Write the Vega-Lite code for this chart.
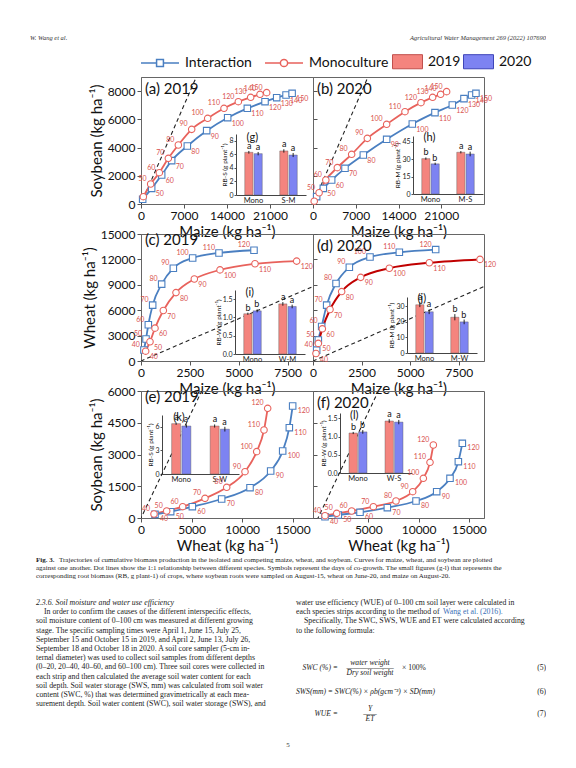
{
  "$schema": "https://vega.github.io/schema/vega-lite/v6.json",
  "background": "white",
  "padding": {"left": 30, "top": 0, "right": 0, "bottom": 0},
  "columns": 3,
  "bounds": "flush",
  "spacing": {"row": 30, "column": 0},
  "config": {
    "view": {"stroke": "#666", "strokeWidth": 1},
    "font": "Lato",
    "axis": {"labelFont": "Lato", "titleFont": "Lato", "labelFontSize": 12, "titleFontSize": 15, "titleFontWeight": "normal", "labelColor": "#111", "titleColor": "#111", "domainColor": "#666", "tickColor": "#555", "tickSize": 4, "grid": false, "labelFlush": false, "labelOverlap": false, "labelPadding": 2, "titlePadding": 3},
    "title": {"font": "Lato", "fontWeight": "normal", "color": "#111"},
    "text": {"font": "Lato"}
  },
  "datasets": {
    "oneone": [{"x": -1000, "y": -1000}, {"x": 40000, "y": 40000}],
    "pa": [
      {"series": "Monoculture", "day": 40, "x": 378, "y": 519}, {"series": "Monoculture", "day": 50, "x": 1574, "y": 1417}, {"series": "Monoculture", "day": 60, "x": 2984, "y": 2220}, {"series": "Monoculture", "day": 70, "x": 4450, "y": 3236}, {"series": "Monoculture", "day": 80, "x": 6078, "y": 4181}, {"series": "Monoculture", "day": 90, "x": 8250, "y": 5291}, {"series": "Monoculture", "day": 100, "x": 10855, "y": 6071}, {"series": "Monoculture", "day": 110, "x": 13512, "y": 6780}, {"series": "Monoculture", "day": 120, "x": 15845, "y": 7252}, {"series": "Monoculture", "day": 130, "x": 17854, "y": 7559}, {"series": "Monoculture", "day": 140, "x": 19373, "y": 7772}, {"series": "Monoculture", "day": 150, "x": 20460, "y": 7890},
      {"series": "Interaction", "day": 40, "x": 271, "y": 331}, {"series": "Interaction", "day": 50, "x": 1736, "y": 1110}, {"series": "Interaction", "day": 60, "x": 3364, "y": 2055}, {"series": "Interaction", "day": 70, "x": 4991, "y": 3071}, {"series": "Interaction", "day": 80, "x": 7542, "y": 4110}, {"series": "Interaction", "day": 90, "x": 10690, "y": 5197}, {"series": "Interaction", "day": 100, "x": 14110, "y": 6118}, {"series": "Interaction", "day": 110, "x": 17310, "y": 6780}, {"series": "Interaction", "day": 120, "x": 20190, "y": 7252}, {"series": "Interaction", "day": 130, "x": 22090, "y": 7535}, {"series": "Interaction", "day": 140, "x": 23610, "y": 7725}, {"series": "Interaction", "day": 150, "x": 24600, "y": 7843}
    ],
    "pb": [
      {"series": "Monoculture", "day": 40, "x": 200, "y": 200}, {"series": "Monoculture", "day": 50, "x": 1000, "y": 800}, {"series": "Monoculture", "day": 60, "x": 2100, "y": 1700}, {"series": "Monoculture", "day": 70, "x": 3983, "y": 2575}, {"series": "Monoculture", "day": 80, "x": 6330, "y": 3520}, {"series": "Monoculture", "day": 90, "x": 8895, "y": 4653}, {"series": "Monoculture", "day": 100, "x": 12060, "y": 5646}, {"series": "Monoculture", "day": 110, "x": 15060, "y": 6543}, {"series": "Monoculture", "day": 120, "x": 17680, "y": 7181}, {"series": "Monoculture", "day": 130, "x": 19590, "y": 7559}, {"series": "Monoculture", "day": 140, "x": 20900, "y": 7772}, {"series": "Monoculture", "day": 150, "x": 21880, "y": 7961},
      {"series": "Interaction", "day": 40, "x": 600, "y": 520}, {"series": "Interaction", "day": 50, "x": 1691, "y": 1110}, {"series": "Interaction", "day": 60, "x": 3055, "y": 1701}, {"series": "Interaction", "day": 70, "x": 5238, "y": 2528}, {"series": "Interaction", "day": 80, "x": 8240, "y": 3473}, {"series": "Interaction", "day": 90, "x": 12060, "y": 4583}, {"series": "Interaction", "day": 100, "x": 16260, "y": 5670}, {"series": "Interaction", "day": 110, "x": 19970, "y": 6473}, {"series": "Interaction", "day": 120, "x": 22810, "y": 7016}, {"series": "Interaction", "day": 130, "x": 24720, "y": 7465}, {"series": "Interaction", "day": 140, "x": 25970, "y": 7725}, {"series": "Interaction", "day": 150, "x": 26680, "y": 7843}
    ],
    "pc": [
      {"series": "Interaction", "day": 40, "x": 150, "y": 1300}, {"series": "Interaction", "day": 50, "x": 256, "y": 2600}, {"series": "Interaction", "day": 60, "x": 375, "y": 4280}, {"series": "Interaction", "day": 70, "x": 597, "y": 6600}, {"series": "Interaction", "day": 80, "x": 1057, "y": 9080}, {"series": "Interaction", "day": 90, "x": 1654, "y": 10960}, {"series": "Interaction", "day": 100, "x": 2643, "y": 12160}, {"series": "Interaction", "day": 110, "x": 3990, "y": 12760}, {"series": "Interaction", "day": 120, "x": 5781, "y": 13080},
      {"series": "Monoculture", "day": 40, "x": 239, "y": 1160}, {"series": "Monoculture", "day": 50, "x": 460, "y": 2280}, {"series": "Monoculture", "day": 60, "x": 716, "y": 3880}, {"series": "Monoculture", "day": 70, "x": 1142, "y": 5960}, {"series": "Monoculture", "day": 80, "x": 1790, "y": 8080}, {"series": "Monoculture", "day": 90, "x": 2728, "y": 9680}, {"series": "Monoculture", "day": 100, "x": 4042, "y": 10760}, {"series": "Monoculture", "day": 110, "x": 5832, "y": 11480}, {"series": "Monoculture", "day": 120, "x": 7964, "y": 11800}
    ],
    "pd": [
      {"series": "Interaction", "day": 40, "x": 190, "y": 1280}, {"series": "Interaction", "day": 50, "x": 274, "y": 2480}, {"series": "Interaction", "day": 60, "x": 446, "y": 4080}, {"series": "Interaction", "day": 70, "x": 703, "y": 6600}, {"series": "Interaction", "day": 80, "x": 1184, "y": 9160}, {"series": "Interaction", "day": 90, "x": 1870, "y": 11080}, {"series": "Interaction", "day": 100, "x": 2933, "y": 12280}, {"series": "Interaction", "day": 110, "x": 4443, "y": 12840}, {"series": "Interaction", "day": 120, "x": 6313, "y": 13160},
      {"series": "Monoculture", "day": 40, "x": 154, "y": 880}, {"series": "Monoculture", "day": 50, "x": 274, "y": 2080}, {"series": "Monoculture", "day": 60, "x": 480, "y": 3800}, {"series": "Monoculture", "day": 70, "x": 875, "y": 6080}, {"series": "Monoculture", "day": 80, "x": 1475, "y": 8200}, {"series": "Monoculture", "day": 90, "x": 2453, "y": 9880}, {"series": "Monoculture", "day": 100, "x": 3928, "y": 10960}, {"series": "Monoculture", "day": 110, "x": 5986, "y": 11600}, {"series": "Monoculture", "day": 120, "x": 8594, "y": 12000}
    ],
    "pe": [
      {"series": "Monoculture", "day": 40, "x": 1285, "y": 189}, {"series": "Monoculture", "day": 50, "x": 2540, "y": 331}, {"series": "Monoculture", "day": 60, "x": 4120, "y": 535}, {"series": "Monoculture", "day": 70, "x": 6326, "y": 929}, {"series": "Monoculture", "day": 80, "x": 8470, "y": 1449}, {"series": "Monoculture", "day": 90, "x": 10279, "y": 2189}, {"series": "Monoculture", "day": 100, "x": 11433, "y": 3134}, {"series": "Monoculture", "day": 110, "x": 12157, "y": 4157}, {"series": "Monoculture", "day": 120, "x": 12520, "y": 5181},
      {"series": "Interaction", "day": 40, "x": 1384, "y": 173}, {"series": "Interaction", "day": 50, "x": 2932, "y": 299}, {"series": "Interaction", "day": 60, "x": 5073, "y": 535}, {"series": "Interaction", "day": 70, "x": 7972, "y": 898}, {"series": "Interaction", "day": 80, "x": 10774, "y": 1433}, {"series": "Interaction", "day": 90, "x": 12816, "y": 2220}, {"series": "Interaction", "day": 100, "x": 14003, "y": 3165}, {"series": "Interaction", "day": 110, "x": 14660, "y": 4267}, {"series": "Interaction", "day": 120, "x": 14990, "y": 5291}
    ],
    "pf": [
      {"series": "Monoculture", "day": 40, "x": 693, "y": 110}, {"series": "Monoculture", "day": 50, "x": 1856, "y": 220}, {"series": "Monoculture", "day": 60, "x": 3346, "y": 331}, {"series": "Monoculture", "day": 70, "x": 5500, "y": 535}, {"series": "Monoculture", "day": 80, "x": 7752, "y": 803}, {"series": "Monoculture", "day": 90, "x": 9410, "y": 1244}, {"series": "Monoculture", "day": 100, "x": 10470, "y": 1874}, {"series": "Monoculture", "day": 110, "x": 11132, "y": 2630}, {"series": "Monoculture", "day": 120, "x": 11463, "y": 3449},
      {"series": "Interaction", "day": 40, "x": 693, "y": 61}, {"series": "Interaction", "day": 50, "x": 2015, "y": 142}, {"series": "Interaction", "day": 60, "x": 4173, "y": 268}, {"series": "Interaction", "day": 70, "x": 6890, "y": 488}, {"series": "Interaction", "day": 80, "x": 9740, "y": 803}, {"series": "Interaction", "day": 90, "x": 11796, "y": 1244}, {"series": "Interaction", "day": 100, "x": 13120, "y": 1874}, {"series": "Interaction", "day": 110, "x": 13950, "y": 2661}, {"series": "Interaction", "day": 120, "x": 14345, "y": 3528}
    ],
    "ig": [
      {"cat": "Mono", "year": "2019", "v": 6.3, "lo": 6.1, "hi": 6.5, "letter": "a"}, {"cat": "Mono", "year": "2020", "v": 6.1, "lo": 5.85, "hi": 6.35, "letter": "a"},
      {"cat": "S-M", "year": "2019", "v": 6.5, "lo": 6.25, "hi": 6.75, "letter": "a"}, {"cat": "S-M", "year": "2020", "v": 5.9, "lo": 5.6, "hi": 6.2, "letter": "a"}
    ],
    "ih": [
      {"cat": "Mono", "year": "2019", "v": 30.5, "lo": 29.5, "hi": 31.5, "letter": "b"}, {"cat": "Mono", "year": "2020", "v": 26, "lo": 25, "hi": 27, "letter": "b"},
      {"cat": "M-S", "year": "2019", "v": 36, "lo": 35, "hi": 37, "letter": "a"}, {"cat": "M-S", "year": "2020", "v": 34.5, "lo": 32.5, "hi": 36.5, "letter": "a"}
    ],
    "ii": [
      {"cat": "Mono", "year": "2019", "v": 1.1, "lo": 1.07, "hi": 1.13, "letter": "b"}, {"cat": "Mono", "year": "2020", "v": 1.18, "lo": 1.14, "hi": 1.22, "letter": "b"},
      {"cat": "W-M", "year": "2019", "v": 1.37, "lo": 1.32, "hi": 1.42, "letter": "a"}, {"cat": "W-M", "year": "2020", "v": 1.3, "lo": 1.25, "hi": 1.35, "letter": "a"}
    ],
    "ij": [
      {"cat": "Mono", "year": "2019", "v": 31, "lo": 29.5, "hi": 32.5, "letter": "a"}, {"cat": "Mono", "year": "2020", "v": 26.5, "lo": 25, "hi": 28, "letter": "a"},
      {"cat": "M-W", "year": "2019", "v": 23, "lo": 21, "hi": 25, "letter": "b"}, {"cat": "M-W", "year": "2020", "v": 20, "lo": 18.5, "hi": 21.5, "letter": "b"}
    ],
    "ik": [
      {"cat": "Mono", "year": "2019", "v": 6.4, "lo": 6.25, "hi": 6.55, "letter": "a"}, {"cat": "Mono", "year": "2020", "v": 6.1, "lo": 5.9, "hi": 6.3, "letter": "a"},
      {"cat": "S-W", "year": "2019", "v": 6.1, "lo": 5.9, "hi": 6.3, "letter": "a"}, {"cat": "S-W", "year": "2020", "v": 5.7, "lo": 5.4, "hi": 6.0, "letter": "a"}
    ],
    "il": [
      {"cat": "Mono", "year": "2019", "v": 1.1, "lo": 1.07, "hi": 1.13, "letter": "b"}, {"cat": "Mono", "year": "2020", "v": 1.13, "lo": 1.08, "hi": 1.18, "letter": "b"},
      {"cat": "W-S", "year": "2019", "v": 1.43, "lo": 1.38, "hi": 1.48, "letter": "a"}, {"cat": "W-S", "year": "2020", "v": 1.4, "lo": 1.34, "hi": 1.46, "letter": "a"}
    ]
  },
  "concat": [
    {
      "width": 111, "height": 47, "view": {"stroke": null},
      "data": {"values": [{"line": 0, "side": "left", "text": "W. Wang et al."}, {"line": 0, "side": "right", "text": "Agricultural Water Management 269 (2022) 107690"}]},
      "encoding": {
        "x": {"field": "side", "type": "nominal", "scale": {"type": "point", "domain": ["left", "right"], "range": [0, 516], "padding": 0}, "axis": null},
        "y": {"field": "line", "type": "quantitative", "scale": {"domain": [0, 1], "range": [38, 47]}, "axis": null},
        "text": {"field": "text"}
      },
      "layer": [
        {"transform": [{"filter": "datum.side == 'left'"}], "mark": {"type": "text", "align": "left", "baseline": "middle", "font": "Liberation Serif", "fontStyle": "italic", "fontSize": 6.5, "color": "#333"}},
        {"transform": [{"filter": "datum.side == 'right'"}], "mark": {"type": "text", "align": "right", "baseline": "middle", "font": "Liberation Serif", "fontStyle": "italic", "fontSize": 6.5, "color": "#333"}}
      ]
    },
    {"width": 1, "height": 1, "view": {"stroke": null}, "data": {"values": []}, "mark": "point"},
    {"width": 1, "height": 1, "view": {"stroke": null}, "data": {"values": []}, "mark": "point"},

    {"width": 111, "height": 127, "view": {"stroke": null}, "data": {"values": []}, "mark": "point"},
    {
      "width": 172, "height": 127,
      "title": {"text": "(a) 2019", "anchor": "start", "frame": "group", "offset": -20, "dx": 4, "fontSize": 15, "baseline": "top"},
      "layer": [
        {
          "encoding": {
            "x": {"field": "x", "type": "quantitative", "scale": {"domain": [0, 28000], "nice": false, "zero": false}, "axis": {"values": [0, 7000, 14000, 21000], "format": "d", "title": "Maize (kg ha⁻¹)"}},
            "y": {"field": "y", "type": "quantitative", "scale": {"domain": [0, 9000], "nice": false, "zero": false}, "axis": {"values": [0, 2000, 4000, 6000, 8000], "format": "d", "title": "Soybean (kg ha⁻¹)"}}
          },
          "layer": [
            {"data": {"name": "oneone"}, "mark": {"type": "line", "color": "#222", "strokeDash": [4, 3], "strokeWidth": 1.1, "clip": true}, "encoding": {}},
            {"data": {"name": "pa"}, "mark": {"type": "line", "interpolate": "monotone", "strokeWidth": 1.8},
              "encoding": {
                "stroke": {"field": "series", "type": "nominal", "scale": {"domain": ["Interaction", "Monoculture"], "range": ["#4a7fc1", "#e8625c"]},
                  "legend": {"title": null, "orient": "none", "legendX": 110, "legendY": 43, "direction": "horizontal", "columns": 2, "columnPadding": 10, "labelFontSize": 14, "labelFont": "Lato", "labelColor": "#111", "symbolSize": 1444, "labelOffset": 5, "padding": 0,
                    "symbolType": {"expr": "datum.value == 'Interaction' ? 'M-1,0H-0.18M0.18,0H1M-0.18,-0.18H0.18V0.18H-0.18Z' : 'M-1,0H-0.19M0.19,0H1M-0.19,0A0.19,0.19,0,1,0,0.19,0A0.19,0.19,0,1,0,-0.19,0Z'"},
                    "encoding": {"symbols": {
                      "shape": {"value": {"expr": "datum.value == 'Interaction' ? 'M-1,0H-0.18M0.18,0H1M-0.18,-0.18H0.18V0.18H-0.18Z' : 'M-1,0H-0.19M0.19,0H1M-0.19,0A0.19,0.19,0,1,0,0.19,0A0.19,0.19,0,1,0,-0.19,0Z'"}},
                      "fill": {"value": "white"},
                      "stroke": {"value": {"expr": "datum.value == 'Interaction' ? '#4a7fc1' : '#e8625c'"}},
                      "strokeWidth": {"value": 1.5}, "opacity": {"value": 1}, "fillOpacity": {"value": 1}, "strokeOpacity": {"value": 1}
                    }}}},
                "order": {"field": "day", "type": "quantitative"}}},
            {"data": {"name": "pa"}, "transform": [{"filter": "datum.series == 'Interaction'"}], "mark": {"type": "point", "shape": "square", "filled": true, "fill": "white", "stroke": "#4a7fc1", "size": 42, "strokeWidth": 1.1, "opacity": 1}, "encoding": {}},
            {"data": {"name": "pa"}, "transform": [{"filter": "datum.series == 'Monoculture'"}], "mark": {"type": "point", "shape": "circle", "filled": true, "fill": "white", "stroke": "#e8625c", "size": 42, "strokeWidth": 1.1, "opacity": 1}, "encoding": {}},
            {"data": {"name": "pa"}, "transform": [{"filter": "datum.series == 'Monoculture' && datum.day >= 50"}], "mark": {"type": "text", "color": "#d9534f", "fontSize": 7, "align": "right", "dx": -4, "dy": -5}, "encoding": {"text": {"field": "day", "type": "quantitative"}}},
            {"data": {"name": "pa"}, "transform": [{"filter": "datum.series == 'Interaction' && datum.day >= 50"}], "mark": {"type": "text", "color": "#d9534f", "fontSize": 7, "align": "left", "dx": 4, "dy": 6}, "encoding": {"text": {"field": "day", "type": "quantitative"}}}
          ]
        },
        {"data": {"name": "ig"}, "mark": {"type": "bar", "stroke": "#555", "strokeWidth": 0.4},
          "encoding": {
            "x": {"field": "cat", "type": "nominal", "scale": {"domain": ["Mono", "S-M"], "range": [95, 165], "paddingInner": 0.5, "paddingOuter": 0.25}, "axis": {"orient": "bottom", "offset": -9, "title": null, "labelAngle": 0, "ticks": false, "labelFontSize": 7.5, "labelPadding": 1, "domainColor": "#444", "labelColor": "#222"}},
            "xOffset": {"field": "year", "type": "nominal", "scale": {"paddingInner": 0.12}},
            "y": {"field": "v", "type": "quantitative", "scale": {"domain": [0, 9], "range": [118, 57], "nice": false, "zero": false}, "axis": {"orient": "left", "offset": -95, "values": [0, 2, 4, 6, 8], "title": "RB-S (g plant⁻¹)", "titleFontSize": 6.5, "labelFontSize": 7, "tickSize": 2, "labelPadding": 1, "titlePadding": 1, "domainColor": "#444", "labelColor": "#222"}},
            "color": {"field": "year", "type": "nominal", "scale": {"domain": ["2019", "2020"], "range": ["#f4847e", "#7d83f2"]},
              "legend": {"title": null, "orient": "none", "legendX": 362, "legendY": 46, "direction": "horizontal", "columns": 2, "columnPadding": 0, "labelFontSize": 14, "labelFont": "Lato", "labelColor": "#111", "symbolSize": 900, "symbolType": "M-1,-0.47H1V0.47H-1Z", "labelOffset": 5, "padding": 0,
                "encoding": {"symbols": {
                  "stroke": {"value": {"expr": "datum.value == '2019' ? '#c0504d' : '#3f46b8'"}},
                  "strokeWidth": {"value": 1}, "opacity": {"value": 1}, "fillOpacity": {"value": 1}
                }}}}}},
        {"data": {"name": "ig"}, "mark": {"type": "rule", "color": "#111", "strokeWidth": 0.9},
          "encoding": {
            "x": {"field": "cat", "type": "nominal", "scale": {"domain": ["Mono", "S-M"], "range": [95, 165], "paddingInner": 0.5, "paddingOuter": 0.25}, "axis": null},
            "xOffset": {"field": "year", "type": "nominal", "scale": {"paddingInner": 0.12}},
            "y": {"field": "lo", "type": "quantitative", "scale": {"domain": [0, 9], "range": [118, 57], "nice": false, "zero": false}, "axis": null},
            "y2": {"field": "hi"}}},
        {"data": {"name": "ig"}, "mark": {"type": "text", "fontSize": 9, "baseline": "alphabetic", "dy": -2, "color": "#111"},
          "encoding": {
            "x": {"field": "cat", "type": "nominal", "scale": {"domain": ["Mono", "S-M"], "range": [95, 165], "paddingInner": 0.5, "paddingOuter": 0.25}, "axis": null},
            "xOffset": {"field": "year", "type": "nominal", "scale": {"paddingInner": 0.12}},
            "y": {"field": "hi", "type": "quantitative", "scale": {"domain": [0, 9], "range": [118, 57], "nice": false, "zero": false}, "axis": null},
            "text": {"field": "letter"}}},
        {"data": {"values": [{"cat": "Mono", "lab": "(g)"}]}, "mark": {"type": "text", "fontSize": 11, "align": "left", "baseline": "middle", "dx": -7, "dy": 4, "color": "#111"},
          "encoding": {
            "x": {"field": "cat", "type": "nominal", "bandPosition": 0, "scale": {"domain": ["Mono", "S-M"], "range": [95, 165], "paddingInner": 0.5, "paddingOuter": 0.25}, "axis": null},
            "y": {"datum": 9, "type": "quantitative", "scale": {"domain": [0, 9], "range": [118, 57], "nice": false, "zero": false}, "axis": null},
            "text": {"field": "lab"}}}
      ],
      "resolve": {"scale": {"x": "independent", "y": "independent", "xOffset": "independent"}, "axis": {"x": "independent", "y": "independent"}}
    },
    {
      "width": 171, "height": 127,
      "title": {"text": "(b) 2020", "anchor": "start", "frame": "group", "offset": -20, "dx": 4, "fontSize": 15, "baseline": "top"},
      "layer": [
        {
          "encoding": {
            "x": {"field": "x", "type": "quantitative", "scale": {"domain": [0, 28000], "nice": false, "zero": false}, "axis": {"values": [0, 7000, 14000, 21000], "format": "d", "title": "Maize (kg ha⁻¹)"}},
            "y": {"field": "y", "type": "quantitative", "scale": {"domain": [0, 9000], "nice": false, "zero": false}, "axis": {"values": [0, 2000, 4000, 6000, 8000], "labels": false, "title": null, "tickSize": -4}}
          },
          "layer": [
            {"data": {"name": "oneone"}, "mark": {"type": "line", "color": "#222", "strokeDash": [4, 3], "strokeWidth": 1.1, "clip": true}, "encoding": {}},
            {"data": {"name": "pb"}, "mark": {"type": "line", "interpolate": "monotone", "strokeWidth": 1.8},
              "encoding": {"stroke": {"field": "series", "type": "nominal", "scale": {"domain": ["Interaction", "Monoculture"], "range": ["#4a7fc1", "#e8625c"]}, "legend": null}, "order": {"field": "day", "type": "quantitative"}}},
            {"data": {"name": "pb"}, "transform": [{"filter": "datum.series == 'Interaction'"}], "mark": {"type": "point", "shape": "square", "filled": true, "fill": "white", "stroke": "#4a7fc1", "size": 42, "strokeWidth": 1.1, "opacity": 1}, "encoding": {}},
            {"data": {"name": "pb"}, "transform": [{"filter": "datum.series == 'Monoculture'"}], "mark": {"type": "point", "shape": "circle", "filled": true, "fill": "white", "stroke": "#e8625c", "size": 42, "strokeWidth": 1.1, "opacity": 1}, "encoding": {}},
            {"data": {"name": "pb"}, "transform": [{"filter": "datum.series == 'Monoculture' && datum.day >= 50"}], "mark": {"type": "text", "color": "#d9534f", "fontSize": 7, "align": "right", "dx": -4, "dy": -5}, "encoding": {"text": {"field": "day", "type": "quantitative"}}},
            {"data": {"name": "pb"}, "transform": [{"filter": "datum.series == 'Interaction' && datum.day >= 50"}], "mark": {"type": "text", "color": "#d9534f", "fontSize": 7, "align": "left", "dx": 4, "dy": 6}, "encoding": {"text": {"field": "day", "type": "quantitative"}}}
          ]
        },
        {"data": {"name": "ih"}, "mark": {"type": "bar", "stroke": "#555", "strokeWidth": 0.4},
          "encoding": {
            "x": {"field": "cat", "type": "nominal", "scale": {"domain": ["Mono", "M-S"], "range": [100, 170], "paddingInner": 0.5, "paddingOuter": 0.25}, "axis": {"orient": "bottom", "offset": -10, "title": null, "labelAngle": 0, "ticks": false, "labelFontSize": 7.5, "labelPadding": 1, "domainColor": "#444", "labelColor": "#222"}},
            "xOffset": {"field": "year", "type": "nominal", "scale": {"paddingInner": 0.12}},
            "y": {"field": "v", "type": "quantitative", "scale": {"domain": [0, 50], "range": [117, 59], "nice": false, "zero": false}, "axis": {"orient": "left", "offset": -100, "values": [0, 15, 30, 45], "title": "RB-M (g plant⁻¹)", "titleFontSize": 6.5, "labelFontSize": 7, "tickSize": 2, "labelPadding": 1, "titlePadding": 1, "domainColor": "#444", "labelColor": "#222"}},
            "color": {"field": "year", "type": "nominal", "scale": {"domain": ["2019", "2020"], "range": ["#f4847e", "#7d83f2"]}, "legend": null}}},
        {"data": {"name": "ih"}, "mark": {"type": "rule", "color": "#111", "strokeWidth": 0.9},
          "encoding": {
            "x": {"field": "cat", "type": "nominal", "scale": {"domain": ["Mono", "M-S"], "range": [100, 170], "paddingInner": 0.5, "paddingOuter": 0.25}, "axis": null},
            "xOffset": {"field": "year", "type": "nominal", "scale": {"paddingInner": 0.12}},
            "y": {"field": "lo", "type": "quantitative", "scale": {"domain": [0, 50], "range": [117, 59], "nice": false, "zero": false}, "axis": null},
            "y2": {"field": "hi"}}},
        {"data": {"name": "ih"}, "mark": {"type": "text", "fontSize": 9, "baseline": "alphabetic", "dy": -2, "color": "#111"},
          "encoding": {
            "x": {"field": "cat", "type": "nominal", "scale": {"domain": ["Mono", "M-S"], "range": [100, 170], "paddingInner": 0.5, "paddingOuter": 0.25}, "axis": null},
            "xOffset": {"field": "year", "type": "nominal", "scale": {"paddingInner": 0.12}},
            "y": {"field": "hi", "type": "quantitative", "scale": {"domain": [0, 50], "range": [117, 59], "nice": false, "zero": false}, "axis": null},
            "text": {"field": "letter"}}},
        {"data": {"values": [{"cat": "Mono", "lab": "(h)"}]}, "mark": {"type": "text", "fontSize": 11, "align": "left", "baseline": "middle", "dx": -7, "dy": 2, "color": "#111"},
          "encoding": {
            "x": {"field": "cat", "type": "nominal", "bandPosition": 0, "scale": {"domain": ["Mono", "M-S"], "range": [100, 170], "paddingInner": 0.5, "paddingOuter": 0.25}, "axis": null},
            "y": {"datum": 50, "type": "quantitative", "scale": {"domain": [0, 50], "range": [117, 59], "nice": false, "zero": false}, "axis": null},
            "text": {"field": "lab"}}}
      ],
      "resolve": {"scale": {"x": "independent", "y": "independent", "xOffset": "independent"}, "axis": {"x": "independent", "y": "independent"}}
    },

    {"width": 111, "height": 127, "view": {"stroke": null}, "data": {"values": []}, "mark": "point"},
    {
      "width": 172, "height": 127,
      "title": {"text": "(c) 2019", "anchor": "start", "frame": "group", "offset": -20, "dx": 4, "fontSize": 15, "baseline": "top"},
      "layer": [
        {
          "encoding": {
            "x": {"field": "x", "type": "quantitative", "scale": {"domain": [0, 8800], "nice": false, "zero": false}, "axis": {"values": [0, 2500, 5000, 7500], "format": "d", "title": "Maize (kg ha⁻¹)"}},
            "y": {"field": "y", "type": "quantitative", "scale": {"domain": [0, 15000], "nice": false, "zero": false}, "axis": {"values": [0, 3000, 6000, 9000, 12000, 15000], "format": "d", "title": "Wheat (kg ha⁻¹)"}}
          },
          "layer": [
            {"data": {"name": "oneone"}, "mark": {"type": "line", "color": "#222", "strokeDash": [4, 3], "strokeWidth": 1.1, "clip": true}, "encoding": {}},
            {"data": {"name": "pc"}, "mark": {"type": "line", "interpolate": "monotone", "strokeWidth": 1.8},
              "encoding": {"stroke": {"field": "series", "type": "nominal", "scale": {"domain": ["Interaction", "Monoculture"], "range": ["#4a7fc1", "#e8625c"]}, "legend": null}, "order": {"field": "day", "type": "quantitative"}}},
            {"data": {"name": "pc"}, "transform": [{"filter": "datum.series == 'Interaction'"}], "mark": {"type": "point", "shape": "square", "filled": true, "fill": "white", "stroke": "#4a7fc1", "size": 42, "strokeWidth": 1.1, "opacity": 1}, "encoding": {}},
            {"data": {"name": "pc"}, "transform": [{"filter": "datum.series == 'Monoculture'"}], "mark": {"type": "point", "shape": "circle", "filled": true, "fill": "white", "stroke": "#e8625c", "size": 42, "strokeWidth": 1.1, "opacity": 1}, "encoding": {}},
            {"data": {"name": "pc"}, "transform": [{"filter": "datum.series == 'Interaction'"}], "mark": {"type": "text", "color": "#d9534f", "fontSize": 7, "align": "right", "dx": -4, "dy": -5}, "encoding": {"text": {"field": "day", "type": "quantitative"}}},
            {"data": {"name": "pc"}, "transform": [{"filter": "datum.series == 'Monoculture'"}], "mark": {"type": "text", "color": "#d9534f", "fontSize": 7, "align": "left", "dx": 4, "dy": 6}, "encoding": {"text": {"field": "day", "type": "quantitative"}}}
          ]
        },
        {"data": {"name": "ii"}, "mark": {"type": "bar", "stroke": "#555", "strokeWidth": 0.4},
          "encoding": {
            "x": {"field": "cat", "type": "nominal", "scale": {"domain": ["Mono", "W-M"], "range": [94, 164], "paddingInner": 0.5, "paddingOuter": 0.25}, "axis": {"orient": "bottom", "offset": -7, "title": null, "labelAngle": 0, "ticks": false, "labelFontSize": 7.5, "labelPadding": 1, "domainColor": "#444", "labelColor": "#222"}},
            "xOffset": {"field": "year", "type": "nominal", "scale": {"paddingInner": 0.12}},
            "y": {"field": "v", "type": "quantitative", "scale": {"domain": [0, 1.75], "range": [120, 56], "nice": false, "zero": false}, "axis": {"orient": "left", "offset": -94, "values": [0, 0.5, 1, 1.5], "format": ".1f", "title": "RB-W (g plant⁻¹)", "titleFontSize": 6.5, "labelFontSize": 7, "tickSize": 2, "labelPadding": 1, "titlePadding": 1, "domainColor": "#444", "labelColor": "#222"}},
            "color": {"field": "year", "type": "nominal", "scale": {"domain": ["2019", "2020"], "range": ["#f4847e", "#7d83f2"]}, "legend": null}}},
        {"data": {"name": "ii"}, "mark": {"type": "rule", "color": "#111", "strokeWidth": 0.9},
          "encoding": {
            "x": {"field": "cat", "type": "nominal", "scale": {"domain": ["Mono", "W-M"], "range": [94, 164], "paddingInner": 0.5, "paddingOuter": 0.25}, "axis": null},
            "xOffset": {"field": "year", "type": "nominal", "scale": {"paddingInner": 0.12}},
            "y": {"field": "lo", "type": "quantitative", "scale": {"domain": [0, 1.75], "range": [120, 56], "nice": false, "zero": false}, "axis": null},
            "y2": {"field": "hi"}}},
        {"data": {"name": "ii"}, "mark": {"type": "text", "fontSize": 9, "baseline": "alphabetic", "dy": -2, "color": "#111"},
          "encoding": {
            "x": {"field": "cat", "type": "nominal", "scale": {"domain": ["Mono", "W-M"], "range": [94, 164], "paddingInner": 0.5, "paddingOuter": 0.25}, "axis": null},
            "xOffset": {"field": "year", "type": "nominal", "scale": {"paddingInner": 0.12}},
            "y": {"field": "hi", "type": "quantitative", "scale": {"domain": [0, 1.75], "range": [120, 56], "nice": false, "zero": false}, "axis": null},
            "text": {"field": "letter"}}},
        {"data": {"values": [{"cat": "Mono", "lab": "(i)"}]}, "mark": {"type": "text", "fontSize": 11, "align": "left", "baseline": "middle", "dx": -7, "dy": 3, "color": "#111"},
          "encoding": {
            "x": {"field": "cat", "type": "nominal", "bandPosition": 0, "scale": {"domain": ["Mono", "W-M"], "range": [94, 164], "paddingInner": 0.5, "paddingOuter": 0.25}, "axis": null},
            "y": {"datum": 1.75, "type": "quantitative", "scale": {"domain": [0, 1.75], "range": [120, 56], "nice": false, "zero": false}, "axis": null},
            "text": {"field": "lab"}}}
      ],
      "resolve": {"scale": {"x": "independent", "y": "independent", "xOffset": "independent"}, "axis": {"x": "independent", "y": "independent"}}
    },
    {
      "width": 171, "height": 127,
      "title": {"text": "(d) 2020", "anchor": "start", "frame": "group", "offset": -20, "dx": 4, "fontSize": 15, "baseline": "top"},
      "layer": [
        {
          "encoding": {
            "x": {"field": "x", "type": "quantitative", "scale": {"domain": [0, 8800], "nice": false, "zero": false}, "axis": {"values": [0, 2500, 5000, 7500], "format": "d", "title": "Maize (kg ha⁻¹)"}},
            "y": {"field": "y", "type": "quantitative", "scale": {"domain": [0, 15000], "nice": false, "zero": false}, "axis": {"values": [0, 3000, 6000, 9000, 12000, 15000], "labels": false, "title": null, "tickSize": -4}}
          },
          "layer": [
            {"data": {"name": "oneone"}, "mark": {"type": "line", "color": "#222", "strokeDash": [4, 3], "strokeWidth": 1.1, "clip": true}, "encoding": {}},
            {"data": {"name": "pd"}, "transform": [{"filter": "datum.series == 'Interaction'"}], "mark": {"type": "line", "interpolate": "monotone", "strokeWidth": 1.8, "color": "#4a7fc1"},
              "encoding": {"order": {"field": "day", "type": "quantitative"}}},
            {"data": {"name": "pd"}, "transform": [{"filter": "datum.series == 'Monoculture'"}], "mark": {"type": "line", "interpolate": "monotone", "strokeWidth": 2, "color": "#c00000"},
              "encoding": {"order": {"field": "day", "type": "quantitative"}}},
            {"data": {"name": "pd"}, "transform": [{"filter": "datum.series == 'Interaction'"}], "mark": {"type": "point", "shape": "square", "filled": true, "fill": "white", "stroke": "#4a7fc1", "size": 42, "strokeWidth": 1.1, "opacity": 1}, "encoding": {}},
            {"data": {"name": "pd"}, "transform": [{"filter": "datum.series == 'Monoculture'"}], "mark": {"type": "point", "shape": "circle", "filled": true, "fill": "white", "stroke": "#e8625c", "size": 42, "strokeWidth": 1.1, "opacity": 1}, "encoding": {}},
            {"data": {"name": "pd"}, "transform": [{"filter": "datum.series == 'Interaction'"}], "mark": {"type": "text", "color": "#d9534f", "fontSize": 7, "align": "right", "dx": -4, "dy": -5}, "encoding": {"text": {"field": "day", "type": "quantitative"}}},
            {"data": {"name": "pd"}, "transform": [{"filter": "datum.series == 'Monoculture'"}], "mark": {"type": "text", "color": "#d9534f", "fontSize": 7, "align": "left", "dx": 4, "dy": 6}, "encoding": {"text": {"field": "day", "type": "quantitative"}}}
          ]
        },
        {"data": {"name": "ij"}, "mark": {"type": "bar", "stroke": "#555", "strokeWidth": 0.4},
          "encoding": {
            "x": {"field": "cat", "type": "nominal", "scale": {"domain": ["Mono", "M-W"], "range": [94, 164], "paddingInner": 0.5, "paddingOuter": 0.25}, "axis": {"orient": "bottom", "offset": -8, "title": null, "labelAngle": 0, "ticks": false, "labelFontSize": 7.5, "labelPadding": 1, "domainColor": "#444", "labelColor": "#222"}},
            "xOffset": {"field": "year", "type": "nominal", "scale": {"paddingInner": 0.12}},
            "y": {"field": "v", "type": "quantitative", "scale": {"domain": [0, 36], "range": [119, 63], "nice": false, "zero": false}, "axis": {"orient": "left", "offset": -94, "values": [0, 10, 20, 30], "title": "RB-M (g plant⁻¹)", "titleFontSize": 6.5, "labelFontSize": 7, "tickSize": 2, "labelPadding": 1, "titlePadding": 1, "domainColor": "#444", "labelColor": "#222"}},
            "color": {"field": "year", "type": "nominal", "scale": {"domain": ["2019", "2020"], "range": ["#f4847e", "#7d83f2"]}, "legend": null}}},
        {"data": {"name": "ij"}, "mark": {"type": "rule", "color": "#111", "strokeWidth": 0.9},
          "encoding": {
            "x": {"field": "cat", "type": "nominal", "scale": {"domain": ["Mono", "M-W"], "range": [94, 164], "paddingInner": 0.5, "paddingOuter": 0.25}, "axis": null},
            "xOffset": {"field": "year", "type": "nominal", "scale": {"paddingInner": 0.12}},
            "y": {"field": "lo", "type": "quantitative", "scale": {"domain": [0, 36], "range": [119, 63], "nice": false, "zero": false}, "axis": null},
            "y2": {"field": "hi"}}},
        {"data": {"name": "ij"}, "mark": {"type": "text", "fontSize": 9, "baseline": "alphabetic", "dy": -2, "color": "#111"},
          "encoding": {
            "x": {"field": "cat", "type": "nominal", "scale": {"domain": ["Mono", "M-W"], "range": [94, 164], "paddingInner": 0.5, "paddingOuter": 0.25}, "axis": null},
            "xOffset": {"field": "year", "type": "nominal", "scale": {"paddingInner": 0.12}},
            "y": {"field": "hi", "type": "quantitative", "scale": {"domain": [0, 36], "range": [119, 63], "nice": false, "zero": false}, "axis": null},
            "text": {"field": "letter"}}},
        {"data": {"values": [{"cat": "Mono", "lab": "(j)"}]}, "mark": {"type": "text", "fontSize": 11, "align": "left", "baseline": "middle", "dx": -7, "dy": 2, "color": "#111"},
          "encoding": {
            "x": {"field": "cat", "type": "nominal", "bandPosition": 0, "scale": {"domain": ["Mono", "M-W"], "range": [94, 164], "paddingInner": 0.5, "paddingOuter": 0.25}, "axis": null},
            "y": {"datum": 36, "type": "quantitative", "scale": {"domain": [0, 36], "range": [119, 63], "nice": false, "zero": false}, "axis": null},
            "text": {"field": "lab"}}}
      ],
      "resolve": {"scale": {"x": "independent", "y": "independent", "xOffset": "independent"}, "axis": {"x": "independent", "y": "independent"}}
    },

    {"width": 111, "height": 127, "view": {"stroke": null}, "data": {"values": []}, "mark": "point"},
    {
      "width": 172, "height": 127,
      "title": {"text": "(e) 2019", "anchor": "start", "frame": "group", "offset": -20, "dx": 4, "fontSize": 15, "baseline": "top"},
      "layer": [
        {
          "encoding": {
            "x": {"field": "x", "type": "quantitative", "scale": {"domain": [0, 17000], "nice": false, "zero": false}, "axis": {"values": [0, 5000, 10000, 15000], "format": "d", "title": "Wheat (kg ha⁻¹)"}},
            "y": {"field": "y", "type": "quantitative", "scale": {"domain": [0, 6000], "nice": false, "zero": false}, "axis": {"values": [0, 1500, 3000, 4500, 6000], "format": "d", "title": "Soybean (kg ha⁻¹)"}}
          },
          "layer": [
            {"data": {"name": "oneone"}, "mark": {"type": "line", "color": "#222", "strokeDash": [4, 3], "strokeWidth": 1.1, "clip": true}, "encoding": {}},
            {"data": {"name": "pe"}, "mark": {"type": "line", "interpolate": "monotone", "strokeWidth": 1.8},
              "encoding": {"stroke": {"field": "series", "type": "nominal", "scale": {"domain": ["Interaction", "Monoculture"], "range": ["#4a7fc1", "#e8625c"]}, "legend": null}, "order": {"field": "day", "type": "quantitative"}}},
            {"data": {"name": "pe"}, "transform": [{"filter": "datum.series == 'Interaction'"}], "mark": {"type": "point", "shape": "square", "filled": true, "fill": "white", "stroke": "#4a7fc1", "size": 42, "strokeWidth": 1.1, "opacity": 1}, "encoding": {}},
            {"data": {"name": "pe"}, "transform": [{"filter": "datum.series == 'Monoculture'"}], "mark": {"type": "point", "shape": "circle", "filled": true, "fill": "white", "stroke": "#e8625c", "size": 42, "strokeWidth": 1.1, "opacity": 1}, "encoding": {}},
            {"data": {"name": "pe"}, "transform": [{"filter": "datum.series == 'Monoculture'"}], "mark": {"type": "text", "color": "#d9534f", "fontSize": 7, "align": "right", "dx": -4, "dy": -5}, "encoding": {"text": {"field": "day", "type": "quantitative"}}},
            {"data": {"name": "pe"}, "transform": [{"filter": "datum.series == 'Interaction'"}], "mark": {"type": "text", "color": "#d9534f", "fontSize": 7, "align": "left", "dx": 5, "dy": 5}, "encoding": {"text": {"field": "day", "type": "quantitative"}}}
          ]
        },
        {"data": {"name": "ik"}, "mark": {"type": "bar", "stroke": "#555", "strokeWidth": 0.4},
          "encoding": {
            "x": {"field": "cat", "type": "nominal", "scale": {"domain": ["Mono", "S-W"], "range": [21, 98], "paddingInner": 0.5, "paddingOuter": 0.25}, "axis": {"orient": "bottom", "offset": -44, "title": null, "labelAngle": 0, "ticks": false, "labelFontSize": 7.5, "labelPadding": 1, "domainColor": "#444", "labelColor": "#222"}},
            "xOffset": {"field": "year", "type": "nominal", "scale": {"paddingInner": 0.12}},
            "y": {"field": "v", "type": "quantitative", "scale": {"domain": [0, 7.5], "range": [83, 24], "nice": false, "zero": false}, "axis": {"orient": "left", "offset": -21, "values": [0, 3, 6], "title": "RB-S (g plant⁻¹)", "titleFontSize": 6.5, "labelFontSize": 7, "tickSize": 2, "labelPadding": 1, "titlePadding": 1, "domainColor": "#444", "labelColor": "#222"}},
            "color": {"field": "year", "type": "nominal", "scale": {"domain": ["2019", "2020"], "range": ["#f4847e", "#7d83f2"]}, "legend": null}}},
        {"data": {"name": "ik"}, "mark": {"type": "rule", "color": "#111", "strokeWidth": 0.9},
          "encoding": {
            "x": {"field": "cat", "type": "nominal", "scale": {"domain": ["Mono", "S-W"], "range": [21, 98], "paddingInner": 0.5, "paddingOuter": 0.25}, "axis": null},
            "xOffset": {"field": "year", "type": "nominal", "scale": {"paddingInner": 0.12}},
            "y": {"field": "lo", "type": "quantitative", "scale": {"domain": [0, 7.5], "range": [83, 24], "nice": false, "zero": false}, "axis": null},
            "y2": {"field": "hi"}}},
        {"data": {"name": "ik"}, "mark": {"type": "text", "fontSize": 9, "baseline": "alphabetic", "dy": -2, "color": "#111"},
          "encoding": {
            "x": {"field": "cat", "type": "nominal", "scale": {"domain": ["Mono", "S-W"], "range": [21, 98], "paddingInner": 0.5, "paddingOuter": 0.25}, "axis": null},
            "xOffset": {"field": "year", "type": "nominal", "scale": {"paddingInner": 0.12}},
            "y": {"field": "hi", "type": "quantitative", "scale": {"domain": [0, 7.5], "range": [83, 24], "nice": false, "zero": false}, "axis": null},
            "text": {"field": "letter"}}},
        {"data": {"values": [{"cat": "Mono", "lab": "(k)"}]}, "mark": {"type": "text", "fontSize": 11, "align": "left", "baseline": "middle", "dx": -8, "dy": 3, "color": "#111"},
          "encoding": {
            "x": {"field": "cat", "type": "nominal", "bandPosition": 0, "scale": {"domain": ["Mono", "S-W"], "range": [21, 98], "paddingInner": 0.5, "paddingOuter": 0.25}, "axis": null},
            "y": {"datum": 7.5, "type": "quantitative", "scale": {"domain": [0, 7.5], "range": [83, 24], "nice": false, "zero": false}, "axis": null},
            "text": {"field": "lab"}}}
      ],
      "resolve": {"scale": {"x": "independent", "y": "independent", "xOffset": "independent"}, "axis": {"x": "independent", "y": "independent"}}
    },
    {
      "width": 171, "height": 127,
      "title": {"text": "(f) 2020", "anchor": "start", "frame": "group", "offset": -20, "dx": 4, "fontSize": 15, "baseline": "top"},
      "layer": [
        {
          "encoding": {
            "x": {"field": "x", "type": "quantitative", "scale": {"domain": [-500, 16500], "nice": false, "zero": false}, "axis": {"values": [5000, 10000, 15000], "format": "d", "title": "Wheat (kg ha⁻¹)"}},
            "y": {"field": "y", "type": "quantitative", "scale": {"domain": [0, 6000], "nice": false, "zero": false}, "axis": {"values": [0, 1500, 3000, 4500, 6000], "labels": false, "title": null, "tickSize": -4}}
          },
          "layer": [
            {"data": {"name": "oneone"}, "mark": {"type": "line", "color": "#222", "strokeDash": [4, 3], "strokeWidth": 1.1, "clip": true}, "encoding": {}},
            {"data": {"name": "pf"}, "mark": {"type": "line", "interpolate": "monotone", "strokeWidth": 1.8},
              "encoding": {"stroke": {"field": "series", "type": "nominal", "scale": {"domain": ["Interaction", "Monoculture"], "range": ["#4a7fc1", "#e8625c"]}, "legend": null}, "order": {"field": "day", "type": "quantitative"}}},
            {"data": {"name": "pf"}, "transform": [{"filter": "datum.series == 'Interaction'"}], "mark": {"type": "point", "shape": "square", "filled": true, "fill": "white", "stroke": "#4a7fc1", "size": 42, "strokeWidth": 1.1, "opacity": 1}, "encoding": {}},
            {"data": {"name": "pf"}, "transform": [{"filter": "datum.series == 'Monoculture'"}], "mark": {"type": "point", "shape": "circle", "filled": true, "fill": "white", "stroke": "#e8625c", "size": 42, "strokeWidth": 1.1, "opacity": 1}, "encoding": {}},
            {"data": {"name": "pf"}, "transform": [{"filter": "datum.series == 'Monoculture'"}], "mark": {"type": "text", "color": "#d9534f", "fontSize": 7, "align": "right", "dx": -4, "dy": -5}, "encoding": {"text": {"field": "day", "type": "quantitative"}}},
            {"data": {"name": "pf"}, "transform": [{"filter": "datum.series == 'Interaction'"}], "mark": {"type": "text", "color": "#d9534f", "fontSize": 7, "align": "left", "dx": 5, "dy": 5}, "encoding": {"text": {"field": "day", "type": "quantitative"}}}
          ]
        },
        {"data": {"name": "il"}, "mark": {"type": "bar", "stroke": "#555", "strokeWidth": 0.4},
          "encoding": {
            "x": {"field": "cat", "type": "nominal", "scale": {"domain": ["Mono", "W-S"], "range": [27, 99], "paddingInner": 0.5, "paddingOuter": 0.25}, "axis": {"orient": "bottom", "offset": -45, "title": null, "labelAngle": 0, "ticks": false, "labelFontSize": 7.5, "labelPadding": 1, "domainColor": "#444", "labelColor": "#222"}},
            "xOffset": {"field": "year", "type": "nominal", "scale": {"paddingInner": 0.12}},
            "y": {"field": "v", "type": "quantitative", "scale": {"domain": [0, 1.65], "range": [82, 22], "nice": false, "zero": false}, "axis": {"orient": "left", "offset": -27, "values": [0, 0.5, 1, 1.5], "format": ".1f", "title": "RB-W (g plant⁻¹)", "titleFontSize": 6.5, "labelFontSize": 7, "tickSize": 2, "labelPadding": 1, "titlePadding": 1, "domainColor": "#444", "labelColor": "#222"}},
            "color": {"field": "year", "type": "nominal", "scale": {"domain": ["2019", "2020"], "range": ["#f4847e", "#7d83f2"]}, "legend": null}}},
        {"data": {"name": "il"}, "mark": {"type": "rule", "color": "#111", "strokeWidth": 0.9},
          "encoding": {
            "x": {"field": "cat", "type": "nominal", "scale": {"domain": ["Mono", "W-S"], "range": [27, 99], "paddingInner": 0.5, "paddingOuter": 0.25}, "axis": null},
            "xOffset": {"field": "year", "type": "nominal", "scale": {"paddingInner": 0.12}},
            "y": {"field": "lo", "type": "quantitative", "scale": {"domain": [0, 1.65], "range": [82, 22], "nice": false, "zero": false}, "axis": null},
            "y2": {"field": "hi"}}},
        {"data": {"name": "il"}, "mark": {"type": "text", "fontSize": 9, "baseline": "alphabetic", "dy": -2, "color": "#111"},
          "encoding": {
            "x": {"field": "cat", "type": "nominal", "scale": {"domain": ["Mono", "W-S"], "range": [27, 99], "paddingInner": 0.5, "paddingOuter": 0.25}, "axis": null},
            "xOffset": {"field": "year", "type": "nominal", "scale": {"paddingInner": 0.12}},
            "y": {"field": "hi", "type": "quantitative", "scale": {"domain": [0, 1.65], "range": [82, 22], "nice": false, "zero": false}, "axis": null},
            "text": {"field": "letter"}}},
        {"data": {"values": [{"cat": "Mono", "lab": "(l)"}]}, "mark": {"type": "text", "fontSize": 11, "align": "left", "baseline": "middle", "dx": -8, "dy": 3, "color": "#111"},
          "encoding": {
            "x": {"field": "cat", "type": "nominal", "bandPosition": 0, "scale": {"domain": ["Mono", "W-S"], "range": [27, 99], "paddingInner": 0.5, "paddingOuter": 0.25}, "axis": null},
            "y": {"datum": 1.65, "type": "quantitative", "scale": {"domain": [0, 1.65], "range": [82, 22], "nice": false, "zero": false}, "axis": null},
            "text": {"field": "lab"}}}
      ],
      "resolve": {"scale": {"x": "independent", "y": "independent", "xOffset": "independent"}, "axis": {"x": "independent", "y": "independent"}}
    },

    {
      "width": 111, "height": 20, "view": {"stroke": null},
      "data": {"values": [
        {"line": 0, "kind": "bold", "text": "Fig. 3."},
        {"line": 0, "kind": "first", "text": "Trajectories of cumulative biomass production in the isolated and competing maize, wheat, and soybean. Curves for maize, wheat, and soybean are plotted"},
        {"line": 1, "kind": "plain", "text": "against one another. Dot lines show the 1:1 relationship between different species. Symbols represent the days of co-growth. The small figures (g-l) that represents the"},
        {"line": 2, "kind": "plain", "text": "corresponding root biomass (RB, g plant-1) of crops, where soybean roots were sampled on August-15, wheat on June-20, and maize on August-20."}
      ]},
      "encoding": {
        "y": {"field": "line", "type": "quantitative", "scale": {"domain": [0, 1], "range": [12, 20]}, "axis": null},
        "text": {"field": "text"}
      },
      "layer": [
        {"transform": [{"filter": "datum.kind == 'bold'"}], "mark": {"type": "text", "align": "left", "baseline": "middle", "font": "Liberation Serif", "fontSize": 7, "fontWeight": "bold", "color": "#222"},
          "encoding": {"x": {"field": "kind", "type": "nominal", "scale": {"type": "point", "domain": ["bold"], "range": [6, 6]}, "axis": null}}},
        {"transform": [{"filter": "datum.kind == 'first'"}], "mark": {"type": "text", "align": "left", "baseline": "middle", "font": "Liberation Serif", "fontSize": 7, "color": "#222"},
          "encoding": {"x": {"field": "kind", "type": "nominal", "scale": {"type": "point", "domain": ["first"], "range": [29, 29]}, "axis": null}}},
        {"transform": [{"filter": "datum.kind == 'plain'"}], "mark": {"type": "text", "align": "left", "baseline": "middle", "font": "Liberation Serif", "fontSize": 7, "color": "#222"},
          "encoding": {"x": {"field": "kind", "type": "nominal", "scale": {"type": "point", "domain": ["plain"], "range": [6, 6]}, "axis": null}}}
      ],
      "resolve": {"scale": {"x": "independent"}}
    },
    {"width": 1, "height": 1, "view": {"stroke": null}, "data": {"values": []}, "mark": "point"},
    {"width": 1, "height": 1, "view": {"stroke": null}, "data": {"values": []}, "mark": "point"},

    {
      "width": 111, "height": 112, "view": {"stroke": null},
      "data": {"values": [
        {"line": 0, "kind": "heading", "text": "2.3.6.  Soil moisture and water use efficiency"},
        {"line": 1, "kind": "indent", "text": "In order to confirm the causes of the different interspecific effects,"},
        {"line": 2, "kind": "text", "text": "soil moisture content of 0–100 cm was measured at different growing"},
        {"line": 3, "kind": "text", "text": "stage. The specific sampling times were April 1, June 15, July 25,"},
        {"line": 4, "kind": "text", "text": "September 15 and October 15 in 2019, and April 2, June 13, July 26,"},
        {"line": 5, "kind": "text", "text": "September 18 and October 18 in 2020. A soil core sampler (5-cm in-"},
        {"line": 6, "kind": "text", "text": "ternal diameter) was used to collect soil samples from different depths"},
        {"line": 7, "kind": "text", "text": "(0–20, 20–40, 40–60, and 60–100 cm). Three soil cores were collected in"},
        {"line": 8, "kind": "text", "text": "each strip and then calculated the average soil water content for each"},
        {"line": 9, "kind": "text", "text": "soil depth. Soil water storage (SWS, mm) was calculated from soil water"},
        {"line": 10, "kind": "text", "text": "content (SWC, %) that was determined gravimetrically at each mea-"},
        {"line": 11, "kind": "text", "text": "surement depth. Soil water content (SWC), soil water storage (SWS), and"}
      ]},
      "encoding": {
        "y": {"field": "line", "type": "quantitative", "scale": {"domain": [0, 1], "range": [5, 14.2]}, "axis": null},
        "text": {"field": "text"}
      },
      "layer": [
        {"transform": [{"filter": "datum.kind == 'heading'"}], "mark": {"type": "text", "align": "left", "baseline": "middle", "font": "Liberation Serif", "fontStyle": "italic", "fontSize": 7.8, "color": "#222"},
          "encoding": {"x": {"field": "kind", "type": "nominal", "scale": {"type": "point", "domain": ["heading"], "range": [6, 6]}, "axis": null}}},
        {"transform": [{"filter": "datum.kind == 'indent'"}], "mark": {"type": "text", "align": "left", "baseline": "middle", "font": "Liberation Serif", "fontSize": 7.8, "color": "#222"},
          "encoding": {"x": {"field": "kind", "type": "nominal", "scale": {"type": "point", "domain": ["indent"], "range": [14, 14]}, "axis": null}}},
        {"transform": [{"filter": "datum.kind == 'text'"}], "mark": {"type": "text", "align": "left", "baseline": "middle", "font": "Liberation Serif", "fontSize": 7.8, "color": "#222"},
          "encoding": {"x": {"field": "kind", "type": "nominal", "scale": {"type": "point", "domain": ["text"], "range": [6, 6]}, "axis": null}}}
      ],
      "resolve": {"scale": {"x": "independent"}}
    },
    {
      "width": 172, "height": 112, "view": {"stroke": null},
      "data": {"values": [
        {"line": 0, "kind": "text", "text": "water use efficiency (WUE) of 0–100 cm soil layer were calculated in"},
        {"line": 1, "kind": "text", "text": "each species strips according to the method of"},
        {"line": 1, "kind": "link", "text": "Wang et al. (2016)."},
        {"line": 2, "kind": "indent", "text": "Specifically, The SWC, SWS, WUE and ET were calculated according"},
        {"line": 3, "kind": "text", "text": "to the following formula:"},
        {"line": 9.67, "kind": "formula", "text": "SWS(mm) = SWC(%) × ρb(gcm⁻³) × SD(mm)"}
      ]},
      "encoding": {
        "y": {"field": "line", "type": "quantitative", "scale": {"domain": [0, 1], "range": [5, 14.2]}, "axis": null},
        "text": {"field": "text"}
      },
      "layer": [
        {"transform": [{"filter": "datum.kind == 'text'"}], "mark": {"type": "text", "align": "left", "baseline": "middle", "font": "Liberation Serif", "fontSize": 7.8, "color": "#222"},
          "encoding": {"x": {"field": "kind", "type": "nominal", "scale": {"type": "point", "domain": ["text"], "range": [155, 155]}, "axis": null}}},
        {"transform": [{"filter": "datum.kind == 'link'"}], "mark": {"type": "text", "align": "left", "baseline": "middle", "font": "Liberation Serif", "fontSize": 7.8, "color": "#3b6fb6"},
          "encoding": {"x": {"field": "kind", "type": "nominal", "scale": {"type": "point", "domain": ["link"], "range": [302, 302]}, "axis": null}}},
        {"transform": [{"filter": "datum.kind == 'indent'"}], "mark": {"type": "text", "align": "left", "baseline": "middle", "font": "Liberation Serif", "fontSize": 7.8, "color": "#222"},
          "encoding": {"x": {"field": "kind", "type": "nominal", "scale": {"type": "point", "domain": ["indent"], "range": [163, 163]}, "axis": null}}},
        {"transform": [{"filter": "datum.kind == 'formula'"}], "mark": {"type": "text", "align": "left", "baseline": "middle", "font": "Liberation Serif", "fontStyle": "italic", "fontSize": 7.6, "color": "#222"},
          "encoding": {"x": {"field": "kind", "type": "nominal", "scale": {"type": "point", "domain": ["formula"], "range": [155, 155]}, "axis": null}}}
      ],
      "resolve": {"scale": {"x": "independent"}}
    },
    {
      "width": 171, "height": 112, "view": {"stroke": null},
      "layer": [
        {
          "data": {"values": [
            {"line": 7.07, "part": "lhs", "text": "SWC  (%) ="},
            {"line": 6.55, "part": "frac", "text": "water   weight"},
            {"line": 7.07, "part": "frac", "text": "———————"},
            {"line": 7.6, "part": "frac", "text": "Dry   soil   weight"},
            {"line": 7.07, "part": "rhs", "text": "× 100%"},
            {"line": 12.07, "part": "lhs", "text": "WUE ="},
            {"line": 11.55, "part": "frac", "text": "Y"},
            {"line": 12.07, "part": "frac", "text": "——"},
            {"line": 12.6, "part": "frac", "text": "ET"}
          ]},
          "encoding": {
            "x": {"field": "part", "type": "nominal", "scale": {"type": "point", "domain": ["lhs", "frac", "rhs"], "range": [25, 89], "padding": 0}, "axis": null},
            "y": {"field": "line", "type": "quantitative", "scale": {"domain": [0, 1], "range": [5, 14.2]}, "axis": null},
            "text": {"field": "text"}
          },
          "layer": [
            {"transform": [{"filter": "datum.part == 'lhs'"}], "mark": {"type": "text", "align": "right", "baseline": "middle", "font": "Liberation Serif", "fontStyle": "italic", "fontSize": 7.6, "color": "#222"}},
            {"transform": [{"filter": "datum.part == 'frac'"}], "mark": {"type": "text", "align": "center", "baseline": "middle", "font": "Liberation Serif", "fontStyle": "italic", "fontSize": 7.6, "color": "#222"}},
            {"transform": [{"filter": "datum.part == 'rhs'"}], "mark": {"type": "text", "align": "left", "baseline": "middle", "font": "Liberation Serif", "fontSize": 7.6, "color": "#222"}}
          ]
        },
        {
          "data": {"values": [
            {"line": 7.07, "part": "eq", "text": "(5)"},
            {"line": 9.67, "part": "eq", "text": "(6)"},
            {"line": 12.07, "part": "eq", "text": "(7)"}
          ]},
          "mark": {"type": "text", "align": "right", "baseline": "middle", "font": "Liberation Serif", "fontSize": 7.6, "color": "#222"},
          "encoding": {
            "x": {"field": "part", "type": "nominal", "scale": {"type": "point", "domain": ["eq"], "range": [233, 233]}, "axis": null},
            "y": {"field": "line", "type": "quantitative", "scale": {"domain": [0, 1], "range": [5, 14.2]}, "axis": null},
            "text": {"field": "text"}
          }
        }
      ],
      "resolve": {"scale": {"x": "independent"}}
    },

    {
      "width": 111, "height": 10, "view": {"stroke": null},
      "data": {"values": [{"pos": "center", "text": "5"}]},
      "mark": {"type": "text", "font": "Liberation Serif", "fontSize": 7, "color": "#333"},
      "encoding": {"x": {"field": "pos", "type": "nominal", "scale": {"type": "point", "domain": ["center"], "range": [258, 258]}, "axis": null}, "text": {"field": "text"}}
    },
    {"width": 1, "height": 1, "view": {"stroke": null}, "data": {"values": []}, "mark": "point"},
    {"width": 1, "height": 1, "view": {"stroke": null}, "data": {"values": []}, "mark": "point"}
  ]
}
